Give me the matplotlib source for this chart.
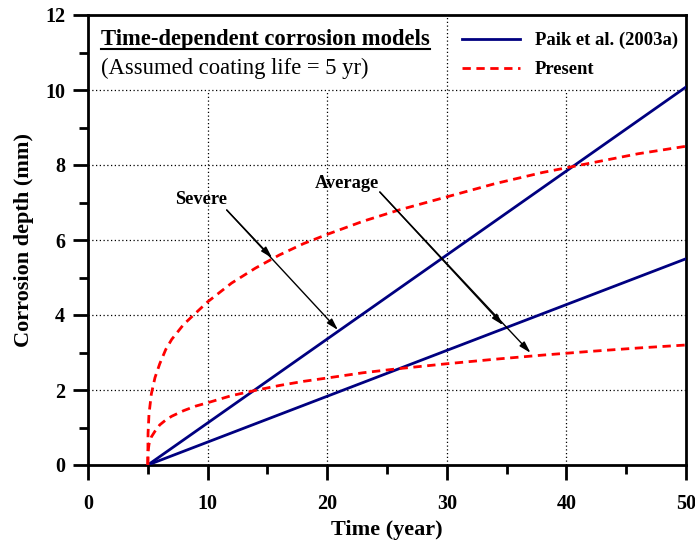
import numpy as np
import matplotlib.pyplot as plt
from matplotlib.lines import Line2D

# Paik et al. (2003a): linear models starting at coating life (5 yr)
paik_t = [5, 50]
paik_severe = [0.0, 10.08]
paik_average = [0.0, 5.5]

# Present model
present_t = [5, 5.02, 5.1, 5.3, 5.6, 6, 6.5, 7, 8, 9, 10, 12, 14, 16, 18,
             20, 23, 26, 30, 34, 38, 42, 46, 50]
present_severe = [0.0, 0.84, 1.36, 1.9, 2.33, 2.7, 3.08, 3.35, 3.75, 4.05,
                  4.35, 4.85, 5.25, 5.6, 5.9, 6.15, 6.5, 6.8, 7.15, 7.5,
                  7.8, 8.05, 8.3, 8.5]
present_average = [0.0, 0.35, 0.55, 0.75, 0.9, 1.07, 1.2, 1.3, 1.45, 1.57,
                   1.66, 1.85, 1.99, 2.12, 2.23, 2.32, 2.46, 2.57, 2.7, 2.82,
                   2.93, 3.03, 3.12, 3.2]

SERIF = "Liberation Serif"
plt.rcParams["font.family"] = SERIF
plt.rcParams["font.weight"] = "bold"

W, H = 695, 545
fig = plt.figure(figsize=(W / 100, H / 100), dpi=100)
ax = fig.add_axes([88 / W, 1 - 465 / H, 598 / W, 450 / H])

# grid (dotted), kept out of the title / legend band at the top
grid = dict(color="black", lw=0.9, ls=(0, (1, 2)), zorder=1)
for gx in [10, 20, 40]:
    ax.plot([gx, gx], [0, 10], **grid)
ax.plot([30, 30], [0, 12], **grid)
for gy in [2, 4, 6, 8, 10]:
    ax.plot([0, 50], [gy, gy], **grid)

ax.plot(paik_t, paik_severe, color="#000080", lw=2, zorder=3)
ax.plot(paik_t, paik_average, color="#000080", lw=2, zorder=3)
ax.plot(present_t, present_severe, color="red", lw=2, ls=(0, (3, 2)), zorder=3)
ax.plot(present_t, present_average, color="red", lw=2, ls=(0, (3, 2)), zorder=3)

ax.set_xlim(0, 50)
ax.set_ylim(0, 12)
ax.set_xticks([0, 10, 20, 30, 40, 50])
ax.set_xticks([5, 15, 25, 35, 45], minor=True)
ax.set_yticks([0, 2, 4, 6, 8, 10, 12])
ax.set_yticks([1, 3, 5, 7, 9, 11], minor=True)
ax.tick_params(which="major", direction="out", length=11, width=2,
               labelsize=14.5)
ax.tick_params(which="minor", direction="out", length=6.5, width=2)
ax.tick_params(axis="x", which="major", pad=10)
ax.tick_params(axis="y", which="major", pad=5.5)
for s in ax.spines.values():
    s.set_linewidth(2)
for lab in ax.get_xticklabels() + ax.get_yticklabels():
    lab.set_fontweight("bold")

ax.set_xlabel("Time (year)", fontsize=16, fontweight="bold")
ax.xaxis.set_label_coords(0.5, -(520 - 465) / 450)
ax.set_ylabel("Corrosion depth (mm)", fontsize=16, fontweight="bold")
ax.yaxis.set_label_coords(-(88 - 34) / 598, 0.5)

# annotations
arrow = dict(arrowstyle="-|>,head_length=0.7,head_width=0.2", color="black",
             lw=1, shrinkA=0, shrinkB=0)
ax.text(9.45, 7.07, "Severe", ha="center", va="center", fontsize=13.2,
        fontweight="bold")
ax.annotate("", xy=(15.4, 5.52), xytext=(11.6, 6.8), arrowprops=arrow)
ax.annotate("", xy=(20.9, 3.6), xytext=(11.6, 6.8), arrowprops=arrow)
ax.text(21.65, 7.52, "Average", ha="center", va="center", fontsize=13.2,
        fontweight="bold")
ax.annotate("", xy=(34.7, 3.73), xytext=(24.4, 7.28), arrowprops=arrow)
ax.annotate("", xy=(37.0, 2.99), xytext=(24.4, 7.28), arrowprops=arrow)

# title block
title = ax.text(13 / 598, 1 - 30 / 450, "Time-dependent corrosion models",
                transform=ax.transAxes, fontsize=16.3, fontweight="bold",
                va="baseline")
ax.text(13 / 598, 1 - 59 / 450, "(Assumed coating life = 5 yr)",
        transform=ax.transAxes, fontsize=16.3, fontweight="normal",
        va="baseline")
fig.canvas.draw()
bb = title.get_window_extent()
uy = (H - 49) / H
fig.lines.append(Line2D([bb.x0 / W, bb.x1 / W], [uy, uy], color="black",
                        lw=1.5, transform=fig.transFigure))

# legend
handles = [Line2D([], [], color="#000080", lw=2),
           Line2D([], [], color="red", lw=2, ls=(0, (3, 2)))]
leg = ax.legend(handles, ["Paik et al. (2003a)", "Present"], loc="upper right",
                bbox_to_anchor=(1.0, 0.98),
                prop={"family": SERIF, "weight": "bold", "size": 13.4},
                frameon=False, handlelength=3.1, handletextpad=0.8,
                borderaxespad=0, borderpad=0.43, labelspacing=0.65)

fig.savefig("out.png", dpi=100)
